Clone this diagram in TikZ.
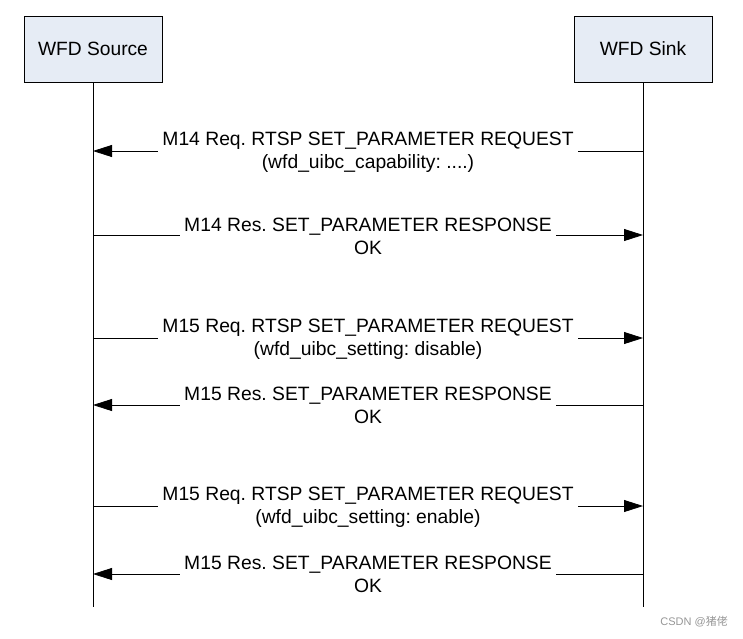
\documentclass[tikz,border=0pt]{standalone}
\usepackage{fontspec}
\setmainfont{Liberation Sans}
\newfontfamily\cjkfont{Noto Sans CJK SC}
\usetikzlibrary{arrows.meta}
\definecolor{boxfill}{RGB}{230,236,245}
\definecolor{wmgray}{RGB}{150,150,150}
\frenchspacing
\begin{document}
\begin{tikzpicture}[x=1pt,y=-1pt,
  actor/.style={draw=black, line width=0.8pt, fill=boxfill, minimum width=138pt, minimum height=66pt, inner sep=0pt, font=\fontsize{19.2}{22}\selectfont},
  lifeline/.style={draw=black, line width=0.8pt},
  msg/.style={draw=black, line width=0.8pt, -{Triangle[length=19pt,width=12pt]}},
  msglabel/.style={fill=white, align=center, inner xsep=4pt, inner ysep=1pt, font=\fontsize{19.3}{23}\selectfont\frenchspacing}]
\useasboundingbox (0,0) rectangle (743,638);
\node[actor] (src) at (93,49) {WFD Source};
\node[actor] (snk) at (643,49) {WFD Sink};
\coordinate (srcEnd) at (93,607);
\coordinate (snkEnd) at (643,607);
\draw[lifeline] (src.south) -- (srcEnd);
\draw[lifeline] (snk.south) -- (snkEnd);
% messages
\draw[msg] (snk.south |- 0,151) -- (src.south |- 0,151);
\node[msglabel] (m1) at (368,152.5) {M14 Req. RTSP SET\_PARAMETER REQUEST\\(wfd\_uibc\_capability: ....)};
\draw[msg] (src.south |- 0,235) -- (snk.south |- 0,235);
\node[msglabel] (m2) at (368,236.5) {M14 Res. SET\_PARAMETER RESPONSE\\OK};
\draw[msg] (src.south |- 0,338) -- (snk.south |- 0,338);
\node[msglabel] (m3) at (368,339.5) {M15 Req. RTSP SET\_PARAMETER REQUEST\\(wfd\_uibc\_setting: disable)};
\draw[msg] (snk.south |- 0,405) -- (src.south |- 0,405);
\node[msglabel] (m4) at (368,405.5) {M15 Res. SET\_PARAMETER RESPONSE\\OK};
\draw[msg] (src.south |- 0,506) -- (snk.south |- 0,506);
\node[msglabel] (m5) at (368,507.5) {M15 Req. RTSP SET\_PARAMETER REQUEST\\(wfd\_uibc\_setting: enable)};
\draw[msg] (snk.south |- 0,574) -- (src.south |- 0,574);
\node[msglabel] (m6) at (368,574.5) {M15 Res. SET\_PARAMETER RESPONSE\\OK};
\node[anchor=east, text=wmgray, inner sep=0pt, font=\fontsize{11}{13}\selectfont] (wm) at (728,622) {CSDN @{\cjkfont 猪佬}};
\end{tikzpicture}
\end{document}
